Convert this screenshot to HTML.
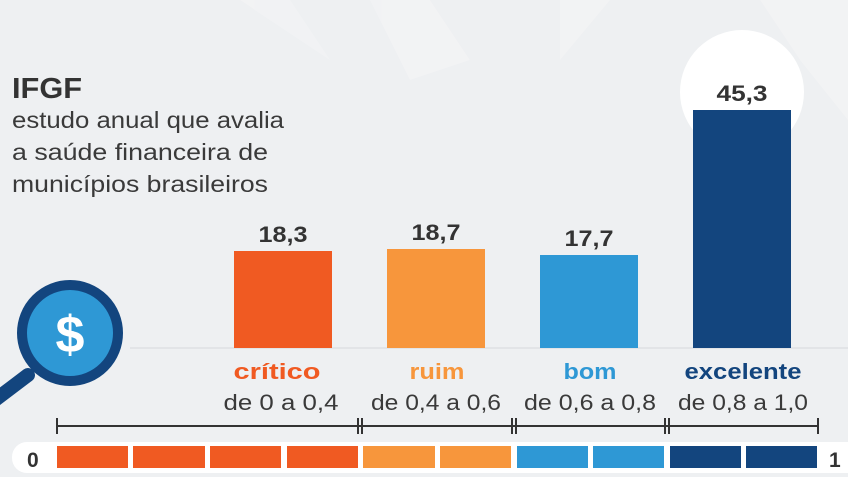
<!DOCTYPE html>
<html><head><meta charset="utf-8"><style>
html,body{margin:0;padding:0;width:848px;height:477px;overflow:hidden;background:#eef0f2}
svg{display:block;font-family:"Liberation Sans",sans-serif}
</style></head><body>
<svg width="848" height="477" viewBox="0 0 848 477">
<rect width="848" height="477" fill="#eef0f2"/>
<g fill="#f3f4f5" opacity="0.7">
<polygon points="370,0 430,0 470,60 410,80"/>
<polygon points="560,0 610,0 560,60"/>
<polygon points="240,0 290,0 330,60"/>
<polygon points="760,0 848,0 848,120 800,60"/>
</g>
<line x1="130" y1="348" x2="848" y2="348" stroke="#e2e4e7" stroke-width="2"/>
<text x="12" y="98" font-size="29" font-weight="bold" fill="#333" textLength="70" lengthAdjust="spacingAndGlyphs">IFGF</text>
<g font-size="23" fill="#3a3a3a">
<text x="12" y="128" textLength="272" lengthAdjust="spacingAndGlyphs">estudo anual que avalia</text>
<text x="12" y="160" textLength="256" lengthAdjust="spacingAndGlyphs">a saúde financeira de</text>
<text x="12" y="192" textLength="256" lengthAdjust="spacingAndGlyphs">municípios brasileiros</text>
</g>
<circle cx="742" cy="92" r="62" fill="#ffffff"/>
<rect x="234" y="251" width="98" height="97" fill="#f05a22"/>
<rect x="387" y="249" width="98" height="99" fill="#f7963c"/>
<rect x="540" y="255" width="98" height="93" fill="#2e98d5"/>
<rect x="693" y="110" width="98" height="238" fill="#13457e"/>
<g font-size="22" font-weight="bold" fill="#333" text-anchor="middle">
<text x="283" y="242" textLength="49" lengthAdjust="spacingAndGlyphs">18,3</text>
<text x="436" y="240" textLength="49" lengthAdjust="spacingAndGlyphs">18,7</text>
<text x="589" y="246" textLength="49" lengthAdjust="spacingAndGlyphs">17,7</text>
<text x="742" y="101" textLength="51" lengthAdjust="spacingAndGlyphs">45,3</text>
</g>
<g font-size="22" font-weight="bold" text-anchor="middle">
<text x="277" y="379" fill="#f05a22" textLength="87" lengthAdjust="spacingAndGlyphs">crítico</text>
<text x="437" y="379" fill="#f7963c" textLength="55" lengthAdjust="spacingAndGlyphs">ruim</text>
<text x="590" y="379" fill="#2e98d5" textLength="53" lengthAdjust="spacingAndGlyphs">bom</text>
<text x="743" y="379" fill="#13457e" textLength="117" lengthAdjust="spacingAndGlyphs">excelente</text>
</g>
<g font-size="22" fill="#3a3a3a" text-anchor="middle">
<text x="281" y="410" textLength="115" lengthAdjust="spacingAndGlyphs">de 0 a 0,4</text>
<text x="436" y="410" textLength="130" lengthAdjust="spacingAndGlyphs">de 0,4 a 0,6</text>
<text x="590" y="410" textLength="132" lengthAdjust="spacingAndGlyphs">de 0,6 a 0,8</text>
<text x="743" y="410" textLength="130" lengthAdjust="spacingAndGlyphs">de 0,8 a 1,0</text>
</g>
<g stroke="#333" stroke-width="2">
<line x1="57" y1="426" x2="818" y2="426"/>
<line x1="57" y1="418" x2="57" y2="434"/>
<line x1="358" y1="418" x2="358" y2="434"/><line x1="362" y1="418" x2="362" y2="434"/>
<line x1="512" y1="418" x2="512" y2="434"/><line x1="516" y1="418" x2="516" y2="434"/>
<line x1="665" y1="418" x2="665" y2="434"/><line x1="669" y1="418" x2="669" y2="434"/>
<line x1="818" y1="418" x2="818" y2="434"/>
</g>
<rect x="12" y="442" width="860" height="31" rx="15" fill="#ffffff"/>
<text x="27" y="467" font-size="21" font-weight="bold" fill="#333">0</text>
<text x="829" y="467" font-size="21" font-weight="bold" fill="#333">1</text>
<g>
<rect x="57" y="446" width="71" height="22" fill="#f05a22"/>
<rect x="133" y="446" width="72" height="22" fill="#f05a22"/>
<rect x="210" y="446" width="71" height="22" fill="#f05a22"/>
<rect x="287" y="446" width="71" height="22" fill="#f05a22"/>
<rect x="363" y="446" width="72" height="22" fill="#f7963c"/>
<rect x="440" y="446" width="71" height="22" fill="#f7963c"/>
<rect x="517" y="446" width="71" height="22" fill="#2e98d5"/>
<rect x="593" y="446" width="71" height="22" fill="#2e98d5"/>
<rect x="670" y="446" width="71" height="22" fill="#13457e"/>
<rect x="746" y="446" width="71" height="22" fill="#13457e"/>
</g>
<line x1="28" y1="375" x2="-5" y2="400" stroke="#13457e" stroke-width="14" stroke-linecap="round"/>
<circle cx="70" cy="333" r="48" fill="#2e98d5" stroke="#13457e" stroke-width="10"/>
<text x="70" y="352" font-size="52" font-weight="bold" fill="#fff" text-anchor="middle">$</text>
</svg>
</body></html>
